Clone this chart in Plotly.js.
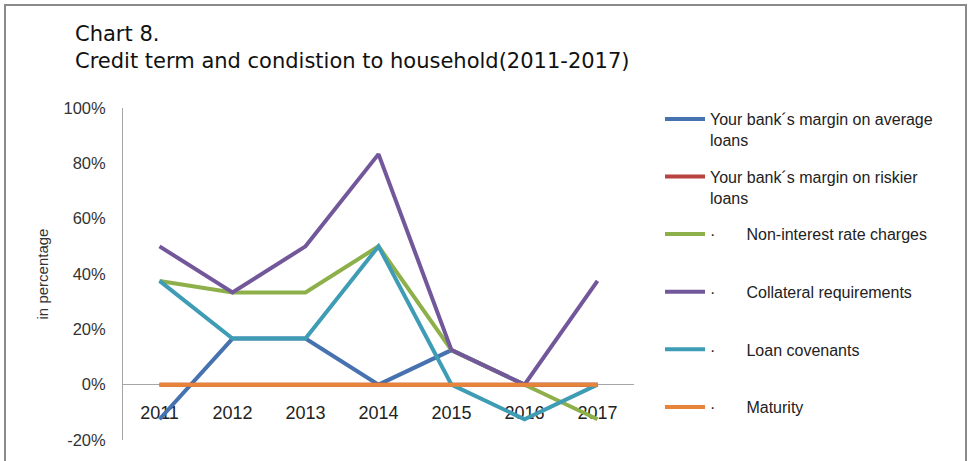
<!DOCTYPE html>
<html>
<head>
<meta charset="utf-8">
<script src="https://cdn.plot.ly/plotly-3.0.1.min.js"></script>
<style>
  html, body { margin: 0; padding: 0; background: #fff; }
  #chart { width: 971px; height: 461px; }
</style>
</head>
<body>
<div id="chart"></div>
<script>
// Survey years on the category axis
const years = ['2011', '2012', '2013', '2014', '2015', '2016', '2017'];

// Net percentage of banks reporting tightening, per credit term
const marginAverage   = [-0.125, 0.1667, 0.1667, 0.0, 0.125, 0.0, 0.0];
const marginRiskier   = [0.0, 0.0, 0.0, 0.0, 0.0, 0.0, 0.0];
const nonInterest     = [0.375, 0.3333, 0.3333, 0.5, 0.125, 0.0, -0.125];
const collateral      = [0.5, 0.3333, 0.5, 0.8333, 0.125, 0.0, 0.375];
const covenants       = [0.375, 0.1667, 0.1667, 0.5, 0.0, -0.125, 0.0];
const maturity        = [0.0, 0.0, 0.0, 0.0, 0.0, 0.0, 0.0];

// Value-axis ticks, written with a plain hyphen for negatives
const yTickVals = [-0.2, 0.0, 0.2, 0.4, 0.6, 0.8, 1.0];
const yTickText = ['-20%', '0%', '20%', '40%', '60%', '80%', '100%'];

const pad = '\u00b7' + '\u00a0'.repeat(7);
const seriesNames = [
  'Your bank\u00b4s margin on average<br>loans',
  'Your bank\u00b4s margin on riskier<br>loans',
  pad + 'Non-interest rate charges<br>\u00a0',
  pad + 'Collateral requirements<br>\u00a0',
  pad + 'Loan covenants<br>\u00a0',
  pad + 'Maturity<br>\u00a0'
];
const seriesValues = [marginAverage, marginRiskier, nonInterest, collateral, covenants, maturity];
const seriesColors = ['#4672B0', '#B8433F', '#8DB04A', '#73579B', '#3F9CB5', '#E8843A'];

const traces = seriesValues.map((vals, i) => ({
  type: 'scatter',
  mode: 'lines',
  x: years,
  y: vals,
  name: seriesNames[i],
  legendgroup: 'g' + i,
  line: { color: seriesColors[i], width: 4 },
  hoverinfo: 'x+y'
}));

const baseFont = 'Liberation Sans, Arial, sans-serif';

const layout = {
  width: 971,
  height: 461,
  paper_bgcolor: '#ffffff',
  plot_bgcolor: '#ffffff',
  margin: { l: 123, r: 337, t: 108, b: 21 },
  title: {
    text: 'Chart 8.<br>Credit term and condistion to household(2011-2017)',
    font: { family: 'DejaVu Sans, sans-serif', size: 21, color: '#111' },
    xref: 'container', yref: 'container',
    x: 75 / 971, xanchor: 'left',
    y: 1 - 41 / 461, yanchor: 'top'
  },
  xaxis: {
    type: 'category',
    range: [-0.5, 6.5],
    anchor: 'free',
    position: 56 / 332,
    showline: true,
    linecolor: '#a6a6a6',
    linewidth: 1,
    layer: 'below traces',
    showgrid: false,
    zeroline: false,
    ticks: '',
    tickfont: { family: baseFont, size: 18, color: '#222' },
    ticklabelstandoff: 12,
    fixedrange: true
  },
  yaxis: {
    range: [-0.2, 1.0],
    tickvals: yTickVals,
    ticktext: yTickText,
    showline: true,
    linecolor: '#a6a6a6',
    linewidth: 1,
    layer: 'below traces',
    showgrid: false,
    zeroline: false,
    ticks: '',
    tickfont: { family: baseFont, size: 16.5, color: '#333' },
    ticklabelstandoff: 13,
    title: {
      text: 'in percentage',
      font: { family: baseFont, size: 15, color: '#333' },
      standoff: 11
    },
    fixedrange: true
  },
  legend: {
    x: 660 / 971, xref: 'container', xanchor: 'left',
    y: 1 - 102 / 461, yref: 'container', yanchor: 'top',
    valign: 'top',
    traceorder: 'grouped',
    tracegroupgap: 13,
    itemwidth: 40,
    maxheight: 420,
    font: { family: baseFont, size: 16, color: '#222' },
    bgcolor: 'rgba(0,0,0,0)'
  },
  shapes: [{
    type: 'rect',
    xref: 'paper', yref: 'paper',
    x0: (5 - 123) / 511, x1: (966 - 123) / 511,
    y0: (440 - 475) / 332, y1: (440 - 5) / 332,
    line: { color: '#8a8a8a', width: 2 },
    fillcolor: 'rgba(0,0,0,0)',
    layer: 'below'
  }]
};

Plotly.newPlot('chart', traces, layout, { displayModeBar: false, staticPlot: true });
</script>
</body>
</html>
